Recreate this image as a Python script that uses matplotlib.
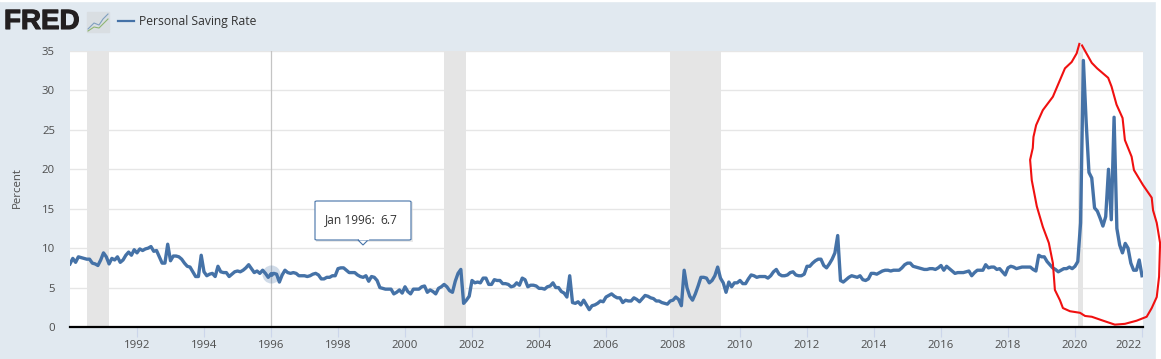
import numpy as np
import pandas as pd
import matplotlib
matplotlib.use('Agg')
import matplotlib.pyplot as plt
import matplotlib.patheffects as pe
from matplotlib.patches import FancyBboxPatch, Polygon, Rectangle

plt.rcParams['font.family'] = ['Open Sans', 'DejaVu Sans']

# Monthly saving rate
y1990 = [8.0, 8.7, 8.2, 8.9, 8.8, 8.7, 8.6, 8.6, 8.1, 8.0, 7.8, 8.5]
y1991 = [9.4, 8.9, 8.0, 8.7, 8.5, 8.9, 8.2, 8.5, 9.1, 9.5, 9.1, 9.8]
y1992 = [9.4, 9.9, 9.7, 9.9, 10.0, 10.2, 9.6, 9.7, 8.9, 8.1, 8.1, 10.5]
y1993 = [8.4, 9.0, 9.0, 8.9, 8.6, 8.1, 7.7, 7.6, 7.0, 6.4, 6.4, 9.1]
y1994 = [7.0, 6.5, 6.7, 6.8, 6.4, 7.7, 7.0, 6.9, 6.9, 6.4, 6.7, 7.0]
y1995 = [7.1, 7.0, 7.2, 7.5, 7.9, 7.4, 6.9, 7.1, 6.8, 7.2, 6.8, 6.3]
y1996 = [6.7, 6.8, 6.7, 5.7, 6.6, 7.2, 6.9, 6.8, 6.9, 6.8, 6.5, 6.5]
y1997 = [6.5, 6.4, 6.5, 6.7, 6.8, 6.6, 6.1, 6.1, 6.3, 6.3, 6.5, 6.5]
y1998 = [7.4, 7.5, 7.5, 7.2, 6.9, 6.9, 6.9, 6.6, 6.4, 6.3, 6.5, 5.8]
y1999 = [6.4, 6.3, 5.9, 5.0, 4.9, 4.8, 4.8, 4.8, 4.2, 4.4, 4.7, 4.3]
y2000 = [5.1, 4.5, 4.2, 4.8, 4.8, 4.8, 5.1, 5.2, 4.4, 4.7, 4.5, 4.2]
y2001 = [4.9, 5.1, 5.4, 5.1, 4.6, 4.4, 5.8, 6.8, 7.3, 3.0, 3.4, 3.9]
y2002 = [5.9, 5.6, 5.7, 5.6, 6.2, 6.2, 5.4, 5.4, 6.0, 5.9, 5.9, 5.5]
y2003 = [5.5, 5.4, 5.1, 5.2, 5.6, 5.3, 6.2, 6.0, 5.1, 5.3, 5.3, 5.2]
y2004 = [4.9, 4.9, 4.8, 5.1, 5.2, 5.6, 5.0, 5.0, 4.5, 4.3, 3.8, 6.5]
y2005 = [3.1, 3.0, 3.2, 2.8, 3.4, 2.8, 2.2, 2.7, 2.8, 3.0, 3.3, 3.2]
y2006 = [3.8, 4.0, 4.2, 3.9, 3.7, 3.7, 3.1, 3.4, 3.3, 3.3, 3.7, 3.5]
y2007 = [3.2, 3.6, 4.0, 3.9, 3.7, 3.6, 3.3, 3.3, 3.1, 3.0, 2.9, 3.3]
y2008 = [3.4, 3.8, 3.5, 2.7, 7.2, 5.0, 3.9, 3.4, 4.2, 5.2, 6.3, 6.3]
y2009 = [6.2, 5.6, 5.9, 6.5, 7.6, 6.2, 5.6, 4.4, 5.7, 5.1, 5.6, 5.6]
y2010 = [5.9, 5.5, 5.5, 6.1, 6.6, 6.5, 6.3, 6.4, 6.4, 6.4, 6.2, 6.5]
y2011 = [7.0, 7.3, 6.7, 6.5, 6.5, 6.6, 6.9, 7.0, 6.6, 6.5, 6.5, 6.7]
y2012 = [7.7, 7.7, 8.1, 8.4, 8.6, 8.6, 7.8, 7.5, 8.0, 8.6, 9.4, 11.6]
y2013 = [5.9, 5.7, 6.0, 6.3, 6.5, 6.4, 6.3, 6.5, 6.0, 5.9, 6.1, 6.8]
y2014 = [6.8, 6.7, 6.9, 7.1, 7.2, 7.2, 7.1, 7.2, 7.2, 7.2, 7.5, 7.9]
y2015 = [8.1, 8.1, 7.7, 7.6, 7.5, 7.4, 7.3, 7.3, 7.4, 7.4, 7.3, 7.5]
y2016 = [7.8, 7.2, 7.7, 7.4, 7.1, 6.8, 6.9, 6.9, 6.9, 7.0, 7.1, 6.5]
y2017 = [6.9, 7.2, 7.2, 7.2, 7.9, 7.5, 7.6, 7.6, 7.3, 7.4, 7.0, 6.6]
y2018 = [7.5, 7.7, 7.6, 7.4, 7.5, 7.6, 7.6, 7.6, 7.6, 7.3, 7.1, 9.1]
y2019 = [8.9, 8.9, 8.3, 7.9, 7.5, 7.3, 7.0, 7.2, 7.4, 7.4, 7.6, 7.4]
y2020 = [7.7, 8.3, 13.2, 33.8, 26.0, 19.6, 18.9, 15.1, 14.7, 13.8, 12.8, 14.0]
y2021 = [20.0, 13.6, 26.6, 12.5, 10.4, 9.4, 10.6, 10.0, 8.1, 7.2, 7.2, 8.5]
y2022 = [6.5]

saving_rate = (y1990 + y1991 + y1992 + y1993 + y1994 + y1995 + y1996 + y1997 + y1998
               + y1999 + y2000 + y2001 + y2002 + y2003 + y2004 + y2005 + y2006 + y2007
               + y2008 + y2009 + y2010 + y2011 + y2012 + y2013 + y2014 + y2015 + y2016
               + y2017 + y2018 + y2019 + y2020 + y2021 + y2022)

rec_start = [1990.5, 2001.17, 2007.92, 2020.08]
rec_end = [1991.17, 2001.83, 2009.42, 2020.25]

year_ticks = list(range(1992, 2023, 2))
pct_ticks = [0, 5, 10, 15, 20, 25, 30, 35]

# Hand drawn red loop, in the chart's own units
loop_x = [2020.13, 2020.05, 2019.90, 2019.70, 2019.55, 2019.34, 2019.04, 2018.84, 2018.76,
          2018.74, 2018.66, 2018.71, 2018.86, 2019.04, 2019.22, 2019.34, 2019.40, 2019.55,
          2019.64, 2019.85, 2020.15, 2020.30, 2020.50, 2020.84, 2021.19, 2021.49, 2021.84,
          2022.14, 2022.29, 2022.44, 2022.51, 2022.54, 2022.44, 2022.33, 2022.29, 2022.03,
          2021.76, 2021.69, 2021.49, 2021.42, 2021.24, 2021.09, 2020.99, 2020.66, 2020.50,
          2020.21]
loop_y = [35.9, 34.7, 33.6, 32.8, 31.3, 29.2, 27.5, 25.6, 24.1,
          22.7, 21.2, 18.6, 15.3, 12.7, 10.65, 8.1, 4.7, 3.4,
          2.4, 2.0, 1.8, 1.4, 1.3, 0.8, 0.3, 0.4, 0.8,
          1.3, 2.4, 3.8, 6.4, 10.65, 13.2, 14.8, 16.4, 18.0,
          19.9, 21.6, 23.7, 26.5, 28.2, 30.5, 31.6, 32.8, 33.5,
          35.7]

W, H = 1161, 359
BLUE = '#4572a7'
BG = '#e1e9f0'
TXT = '#4d4d4d'


# pixel position in the reference -> figure fraction
def px(x, y):
    return x / W, 1 - y / H


dates = pd.date_range('1990-01-01', periods=len(saving_rate), freq='MS')
x = dates.year + (dates.month - 1) / 12

fig = plt.figure(figsize=(W / 100, H / 100), dpi=100, facecolor=BG)
ax = fig.add_axes([70 / W, 1 - 327 / H, (1143 - 70) / W, (327 - 51) / H])

# white page edges around the grey-blue card
fig.add_artist(Rectangle((1156 / W, 0), 5 / W, 1, transform=fig.transFigure, color='white', zorder=-1))
fig.add_artist(Rectangle((0, 1 - 1 / H), 1, 1 / H, transform=fig.transFigure, color='white', zorder=-1))

for s, e in zip(rec_start, rec_end):
    ax.axvspan(s, e, color='#e5e5e5', lw=0, zorder=1)

ax.plot(x, saving_rate, color=BLUE, lw=2.4, solid_joinstyle='round', zorder=3)

# hover crosshair and halo on Jan 1996
ax.axvline(1996, color='#c4c4c4', lw=0.9, zorder=2)
ax.plot([1996], [6.7], 'o', ms=13, color=BLUE, alpha=0.25, mew=0, zorder=4)
ax.plot([1996], [6.7], 'o', ms=3.5, color=BLUE, mew=0, zorder=5)

ax.plot(loop_x, loop_y, color='#f01010', lw=1.5, clip_on=False, zorder=6)

ax.set_xlim(1990, 2022.03)
ax.set_ylim(0, 35)
ax.set_xticks(year_ticks)
ax.set_yticks(pct_ticks)
ax.grid(axis='y', color='#e6e6e6', lw=1)
ax.set_axisbelow(True)
for side in ['top', 'right', 'left']:
    ax.spines[side].set_visible(False)
ax.spines['bottom'].set_color('black')
ax.spines['bottom'].set_linewidth(1.6)
ax.spines['bottom'].set_zorder(7)
ax.tick_params(axis='x', length=7, width=0.8, color='#ccd6eb', labelsize=8.2, labelcolor=TXT, pad=2)
ax.tick_params(axis='y', length=0, labelsize=8.2, labelcolor=TXT, pad=10.8)
# last year label stays inside the plot, as in the reference
ax.get_xticklabels()[-1].set_ha('right')

fig.text(*px(17, 188), 'Percent', rotation=90, ha='center', va='center', fontsize=8.2, color=TXT)

# header: logo and legend
fig.text(*px(4, 22), 'FRED', ha='left', va='center', fontsize=20, fontweight='bold',
         family='Liberation Sans', color='#231f20',
         path_effects=[pe.withStroke(linewidth=0.8, foreground='#231f20')])
fig.add_artist(Rectangle(px(87, 32), 22 / W, 20 / H, transform=fig.transFigure, color='#d9dee2', zorder=-1))
fig.add_artist(plt.Line2D([88 / W, 94 / W, 99 / W, 103 / W, 108 / W],
                          [1 - 29 / H, 1 - 23 / H, 1 - 25 / H, 1 - 19 / H, 1 - 14 / H], color='#7f9fbf', lw=0.8))
fig.add_artist(plt.Line2D([88 / W, 94 / W, 99 / W, 103 / W, 108 / W],
                          [1 - 31 / H, 1 - 27 / H, 1 - 28 / H, 1 - 24 / H, 1 - 19 / H], color='#8fb573', lw=0.8))
fig.add_artist(plt.Line2D([118 / W, 134 / W], [1 - 21 / H, 1 - 21 / H], color=BLUE, lw=1.6))
fig.text(*px(139, 22), 'Personal Saving Rate', ha='left', va='center', fontsize=8.7, color='#333333')

# tooltip, with a faint shadow under it
fig.add_artist(Rectangle(px(316, 242), 97 / W, 40 / H, transform=fig.transFigure, fc='#dddddd', ec='none', alpha=0.6, zorder=7))
fig.add_artist(FancyBboxPatch(px(315, 240), 96 / W, 39 / H, boxstyle='round,pad=0,rounding_size=0.002',
                              transform=fig.transFigure, fc='white', ec=BLUE, lw=0.8, zorder=8))
fig.add_artist(Polygon([px(358, 240), px(368, 240), px(363, 245)], transform=fig.transFigure,
                       fc='white', ec=BLUE, lw=0.8, zorder=8))
fig.add_artist(Rectangle(px(358.5, 238.5), 9 / W, 2 / H, transform=fig.transFigure, color='white', zorder=9))
fig.text(*px(325, 220), 'Jan 1996:', ha='left', va='center', fontsize=8.6, color='#333333', zorder=10)
fig.text(*px(380, 220), '6.7', ha='left', va='center', fontsize=8.6, color='#333333', zorder=10)

fig.savefig('out.png', dpi=100, facecolor=fig.get_facecolor())
